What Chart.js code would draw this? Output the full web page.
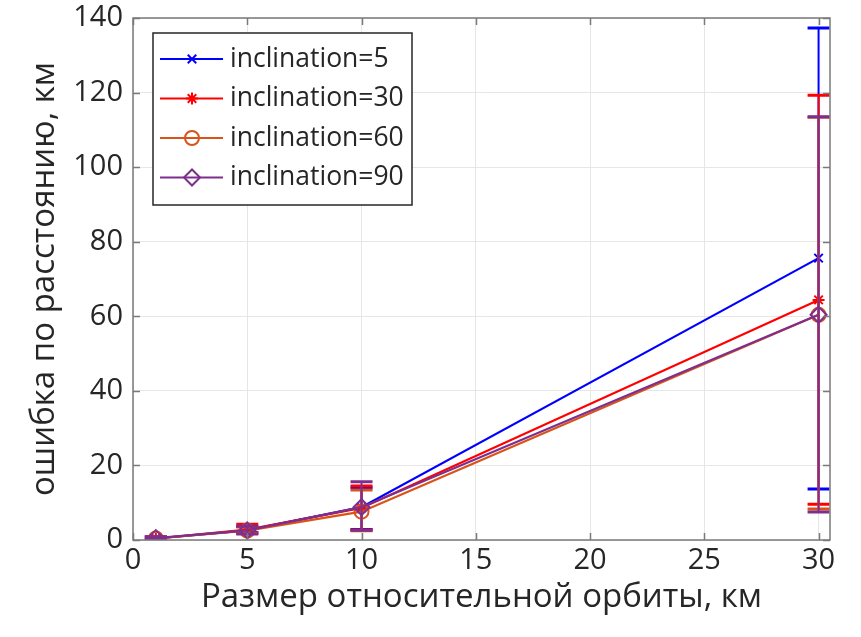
<!DOCTYPE html>
<html>
<head>
<meta charset="utf-8">
<script src="https://cdn.jsdelivr.net/npm/chart.js@4"></script>
<style>
    body { margin: 0; background: #fff; }
</style>
</head>
<body>
<canvas id="errChart" width="861" height="637"></canvas>
<script>
// orbit sizes, km
const orbitSize = [1, 5, 10, 30];

// mean range error, km
const inc5 = [0.4, 2.6, 8.8, 75.6];
const inc30 = [0.4, 2.8, 8.6, 64.4];
const inc60 = [0.4, 2.5, 7.6, 60.4];
const inc90 = [0.5, 2.6, 8.8, 60.4];

// error bar bounds (low / high), km
const inc5Low = [0.1, 2.0, 2.8, 13.7];
const inc5High = [0.8, 3.6, 14.0, 137.3];
const inc30Low = [0.1, 1.9, 2.7, 9.6];
const inc30High = [0.8, 4.2, 14.5, 119.3];
const inc60Low = [0.1, 1.8, 2.5, 8.3];
const inc60High = [0.8, 3.5, 13.4, 113.4];
const inc90Low = [0.1, 1.6, 2.6, 7.5];
const inc90High = [0.9, 3.7, 15.6, 113.5];

const seriesLabels = ['inclination=5', 'inclination=30', 'inclination=60', 'inclination=90'];
const xTicks = [0, 5, 10, 15, 20, 25, 30];
const yTicks = [0, 20, 40, 60, 80, 100, 120, 140];

const FONT = '"Open Sans", "Noto Sans", sans-serif';
const TEXT = '#262626';
const AXIS = '#7a7a7a';

const toPoints = (ys) => ys.map((y, i) => ({ x: orbitSize[i], y: y }));

const series = [
    { label: seriesLabels[0], values: inc5, low: inc5Low, high: inc5High, color: '#0000ff', style: 'crossRot', radius: 6 },
    { label: seriesLabels[1], values: inc30, low: inc30Low, high: inc30High, color: '#ff0000', style: 'star', radius: 6 },
    { label: seriesLabels[2], values: inc60, low: inc60Low, high: inc60High, color: '#d95319', style: 'circle', radius: 7 },
    { label: seriesLabels[3], values: inc90, low: inc90Low, high: inc90High, color: '#7e2f8e', style: 'rectRot', radius: 8 }
];

// Error bars, drawn right after each dataset (like MATLAB errorbar)
const errorBarPlugin = {
    id: 'errorBars',
    afterDatasetDraw(chart, args) {
        const s = series[args.index];
        const { ctx, chartArea } = chart;
        const xs = chart.scales.x, ys = chart.scales.y;
        ctx.save();
        ctx.beginPath();
        ctx.rect(chartArea.left, chartArea.top, chartArea.right - chartArea.left, chartArea.bottom - chartArea.top);
        ctx.clip();
        ctx.strokeStyle = s.color;
        const cap = 11;
        orbitSize.forEach((x, i) => {
            const px = xs.getPixelForValue(x);
            const top = ys.getPixelForValue(s.high[i]);
            const bot = ys.getPixelForValue(s.low[i]);
            ctx.lineWidth = 2;
            ctx.beginPath();
            ctx.moveTo(px, top);
            ctx.lineTo(px, bot);
            ctx.stroke();
            ctx.lineWidth = 3;
            ctx.beginPath();
            ctx.moveTo(px - cap, top);
            ctx.lineTo(px + cap, top);
            ctx.moveTo(px - cap, bot);
            ctx.lineTo(px + cap, bot);
            ctx.stroke();
        });
        ctx.restore();
    }
};

// Box, inward ticks and MATLAB-style legend
const framePlugin = {
    id: 'frame',
    afterDraw(chart) {
        const { ctx, chartArea } = chart;
        const { left, right, top, bottom } = chartArea;
        const xs = chart.scales.x, ys = chart.scales.y;
        ctx.save();
        ctx.strokeStyle = AXIS;
        ctx.lineWidth = 1.5;
        ctx.strokeRect(left, top, right - left, bottom - top);
        ctx.beginPath();
        xTicks.forEach((t) => {
            const px = Math.round(xs.getPixelForValue(t)) + 0.5;
            ctx.moveTo(px, bottom); ctx.lineTo(px, bottom - 7);
            ctx.moveTo(px, top); ctx.lineTo(px, top + 7);
        });
        yTicks.forEach((t) => {
            const py = Math.round(ys.getPixelForValue(t)) + 0.5;
            ctx.moveTo(left, py); ctx.lineTo(left + 7, py);
            ctx.moveTo(right, py); ctx.lineTo(right - 7, py);
        });
        ctx.stroke();

        // legend
        const bx = 153, by = 33, bw = 259, bh = 172;
        ctx.fillStyle = '#fff';
        ctx.fillRect(bx, by, bw, bh);
        ctx.strokeStyle = '#262626';
        ctx.lineWidth = 1.5;
        ctx.strokeRect(bx, by, bw, bh);
        ctx.font = '26.5px ' + FONT;
        ctx.textBaseline = 'middle';
        series.forEach((s, i) => {
            const y = by + 26 + i * 39.5;
            ctx.strokeStyle = s.color;
            ctx.fillStyle = 'rgba(0,0,0,0)';
            ctx.lineWidth = 2;
            ctx.beginPath();
            ctx.moveTo(160, y);
            ctx.lineTo(223, y);
            ctx.stroke();
            Chart.helpers.drawPoint(ctx, {
                pointStyle: s.style,
                radius: s.radius,
                borderWidth: 2,
                rotation: 0
            }, 192, y);
            ctx.fillStyle = TEXT;
            ctx.fillText(s.label, 230, y);
        });
        ctx.restore();
    }
};

const ctx = document.getElementById('errChart').getContext('2d');

new Chart(ctx, {
    type: 'line',
    data: {
        datasets: series.map((s, i) => ({
            label: s.label,
            data: toPoints(s.values),
            borderColor: s.color,
            backgroundColor: 'transparent',
            borderWidth: 2.2,
            pointStyle: s.style,
            pointRadius: s.radius,
            pointBorderWidth: 2,
            pointBorderColor: s.color,
            pointBackgroundColor: 'transparent',
            tension: 0,
            order: series.length - i
        }))
    },
    options: {
        responsive: false,
        animation: false,
        layout: {
            padding: { top: 18, right: 31, left: 0, bottom: 0 }
        },
        plugins: {
            legend: { display: false },
            tooltip: { enabled: false }
        },
        scales: {
            x: {
                type: 'linear',
                min: 0,
                max: 30.5,
                afterFit: (scale) => { scale.height = 97; },
                afterBuildTicks: (scale) => { scale.ticks = xTicks.map((v) => ({ value: v })); },
                grid: {
                    color: '#e6e6e6',
                    drawTicks: false
                },
                border: { display: false },
                ticks: {
                    color: TEXT,
                    padding: 3,
                    maxRotation: 0,
                    font: { family: FONT, size: 29 }
                },
                title: {
                    display: true,
                    text: 'Размер относительной орбиты, км',
                    color: TEXT,
                    padding: { top: 0, bottom: 20 },
                    font: { family: FONT, size: 33 }
                }
            },
            y: {
                min: 0,
                max: 140,
                afterFit: (scale) => {
                    scale.width = 133;
                    scale.paddingTop = 0;
                    scale.paddingBottom = 0;
                },
                afterBuildTicks: (scale) => { scale.ticks = yTicks.map((v) => ({ value: v })); },
                grid: {
                    color: '#e6e6e6',
                    drawTicks: false
                },
                border: { display: false },
                ticks: {
                    color: TEXT,
                    padding: 10,
                    font: { family: FONT, size: 29 }
                },
                title: {
                    display: true,
                    text: 'ошибка по расстоянию, км',
                    color: TEXT,
                    padding: { top: 25, bottom: 0 },
                    font: { family: FONT, size: 33 }
                }
            }
        }
    },
    plugins: [errorBarPlugin, framePlugin]
});
</script>
</body>
</html>
